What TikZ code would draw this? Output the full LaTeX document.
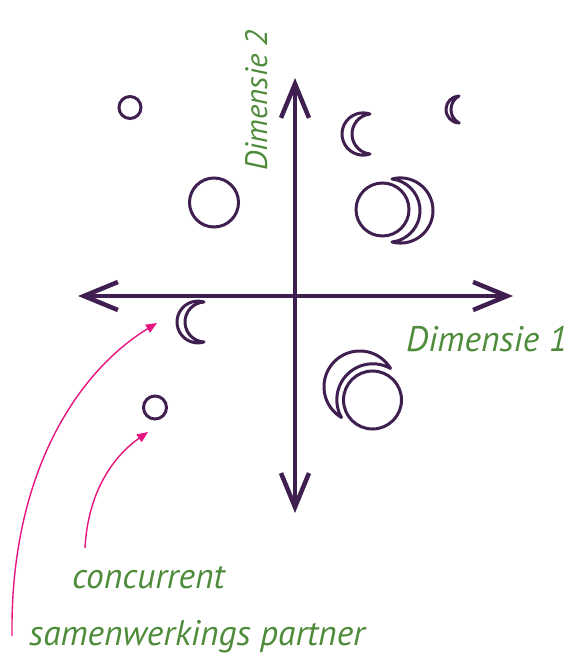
\documentclass[tikz,border=0pt]{standalone}
\usepackage{fontspec}
\setmainfont{PT Sans}
\usetikzlibrary{arrows.meta}
\definecolor{purp}{HTML}{3F1E50}
\definecolor{grn}{HTML}{4E8B3A}
\definecolor{pnk}{HTML}{E6147E}
\tikzset{
  ax/.style={draw=purp, line width=4.5pt,
    {Straight Barb[length=34pt,width=28pt]}-{Straight Barb[length=34pt,width=28pt]}},
  moon/.style={circle, draw=purp, line width=3pt, inner sep=0pt, outer sep=0pt, minimum size=#1},
  lbl/.style={text=grn, font=\itshape\fontsize{35.5}{40}\selectfont, inner sep=0pt},
  lblv/.style={text=grn, font=\itshape\fontsize{31}{36}\selectfont, inner sep=0pt},
  pointer/.style={draw=pnk, line width=1.4pt, -{Triangle[length=11pt,width=9pt]}},
  pics/crescent/.style n args={3}{code={
    \pgfmathsetmacro\ch{#1}\pgfmathsetmacro\cso{#2}\pgfmathsetmacro\csi{#3}
    \pgfmathsetmacro\cro{(\ch*\ch+\cso*\cso)/(2*\cso)}
    \pgfmathsetmacro\cri{(\ch*\ch+\csi*\csi)/(2*\csi)}
    \pgfmathsetmacro\cao{atan2(\ch,\cso-\cro)}
    \pgfmathsetmacro\cai{atan2(\ch,\csi-\cri)}
    \draw[purp, line width=3pt, line join=round]
      (0,\ch) arc[start angle=\cao, end angle=360-\cao, radius=\cro]
      arc[start angle=360-\cai, end angle=\cai, radius=\cri] -- cycle;
  }}
}
\begin{document}
\begin{tikzpicture}[x=1pt, y=-1pt]
\useasboundingbox (0,0) rectangle (572,663);
% axes
\coordinate (L) at (78,296);
\coordinate (R) at (513,296);
\coordinate (T) at (295,78);
\coordinate (B) at (295,513);
\draw[ax] (L) -- (R);
\draw[ax] (T) -- (B);
% circles
\node[moon=22pt] (c1) at (130,107.5) {};
\node[moon=49pt] (c2) at (214,202.5) {};
\node[moon=23pt] (c3) at (155,407.5) {};
\node[moon=53pt] (c4) at (382.5,209.5) {};
\node[moon=58pt] (c5) at (372.5,400) {};
% crescents
\pic (m1) at (459,109.5) {crescent={13.5}{13}{8}};
\pic (m2) at (370,134) {crescent={20}{28}{18}};
\pic[rotate=180] (m3) at (392,210.5) {crescent={31.5}{41}{28}};
\pic (m4) at (204,322) {crescent={20}{27}{19}};
\pic[rotate=-45] (m5) at (366,393) {crescent={34.7}{44.6}{26.4}};
% labels
\node[lbl, anchor=base west] (d1) at (406,351) {Dimensie 1};
\node[lblv, anchor=base west, rotate=90] (d2) at (267,171) {Dimensie 2};
\node[lbl, anchor=base west] (conc) at (72,588) {concurrent};
\node[lbl, anchor=base west] (sam) at (29,645) {samenwerkings partner};
% pointers
\coordinate (p1s) at (85,548);
\coordinate (p1e) at (148,432);
\coordinate (p2s) at (12,636);
\coordinate (p2e) at (157,323);
\draw[pointer] (p1s) .. controls (88,490) and (115,455) .. (p1e);
\draw[pointer] (p2s) .. controls (10,470) and (80,370) .. (p2e);
\end{tikzpicture}
\end{document}
